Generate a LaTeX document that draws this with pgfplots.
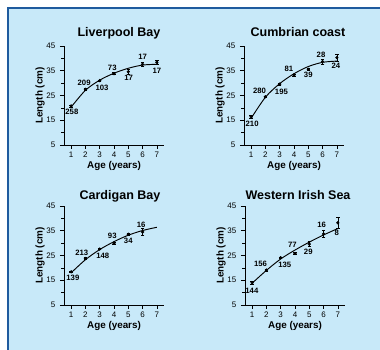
\documentclass[border=0pt]{standalone}
\usepackage{fontspec}
\setmainfont{Liberation Sans}
\usepackage{pgfplots}
\pgfplotsset{compat=1.18}
\usepackage{pgfplotstable}
\definecolor{bgblue}{HTML}{C8E9F9}
\definecolor{frameblue}{HTML}{1F5B9E}

\pgfplotstableread{
age len err
1 20.8 0.4
2 27.5 0.3
3 31.0 0.3
4 33.8 0.4
5 34.6 1.0
6 37.6 0.8
7 38.4 1.0
}\liverpool
\pgfplotstableread{
age len err
1 16.4 0.5
2 24.5 0.3
3 29.6 0.3
4 33.3 0.4
5 35.6 0.5
6 38.7 1.0
7 40.3 1.5
}\cumbrian
\pgfplotstableread{
age len err
1 18.4 0.4
2 23.8 0.3
3 27.6 0.3
4 30.0 0.4
5 33.6 0.4
6 34.5 1.3
}\cardigan
\pgfplotstableread{
age len err
1 14.0 0.5
2 19.1 0.3
3 24.1 0.3
4 25.8 0.4
5 29.6 1.0
6 33.7 1.3
7 38.2 2.2
}\western

\pgfplotsset{panel/.style={
  scale only axis, width=75pt, height=74.25pt,
  xmin=0.5,xmax=7.5,ymin=5,ymax=45,
  axis lines=left, axis line style={-, line width=0.5pt},
  xtick={1,...,7}, ytick={5,15,25,35,45}, minor ytick={10,20,30,40},
  tick align=outside, major tick length=3pt, minor tick length=2pt,
  tick style={line width=0.5pt, black},
  tick label style={font=\fontsize{6}{6}\selectfont},
  xticklabel style={yshift=1pt},
  /pgf/number format/assume math mode=true,
  xlabel={Age (years)}, ylabel={Length (cm)},
  label style={font=\bfseries\fontsize{7.4}{8}\selectfont},
  xlabel style={at={(axis description cs:0.5,-0.215)},anchor=center},
  ylabel style={at={(axis description cs:-0.24,0.5)},anchor=center},
  anchor=south west, clip=false,
},
pts/.style={only marks, mark=*, mark size=1pt, black,
  error bars/.cd, y dir=both, y explicit,
  error bar style={line width=0.5pt},
  error mark options={rotate=90, mark size=1.3pt, line width=0.5pt}},
fit/.style={smooth, no marks, black, line width=0.7pt}
}
\newcommand{\dl}[3]{\node[font=\bfseries\fontsize{5.8}{6}\selectfont,inner sep=0pt] at (axis cs:#1,#2) {#3};}

\begin{document}
\begin{tikzpicture}
\path[use as bounding box] (0,0) rectangle (285pt,262.5pt);
\fill[white] (0,0) rectangle (285pt,262.5pt);
\fill[frameblue] (5.25pt,0) rectangle (285pt,257.25pt);
\fill[bgblue] (6.75pt,0) rectangle (285pt,255.75pt);

% Liverpool Bay
\begin{axis}[panel, at={(48pt,153.75pt)}]
\addplot[fit] coordinates {(1,20.3) (2,27.1) (3,31.2) (4,34.0) (5,36.0) (6,37.3) (7,37.6)};
\addplot[pts] table[x=age,y=len,y error=err] {\liverpool};
\dl{1.05}{18.2}{258}
\dl{1.91}{30.0}{209}
\dl{3.16}{28.2}{103}
\dl{3.88}{36.2}{73}
\dl{5.03}{32.0}{17}
\dl{6.0}{40.7}{17}
\dl{7.0}{35.0}{17}
\end{axis}

% Cumbrian coast
\begin{axis}[panel, at={(183pt,153.75pt)}]
\addplot[fit] coordinates {(1,15.8) (2,24.3) (3,29.8) (4,33.8) (5,36.7) (6,38.4) (7,38.9)};
\addplot[pts] table[x=age,y=len,y error=err] {\cumbrian};
\dl{1.07}{13.5}{210}
\dl{1.59}{26.9}{280}
\dl{3.12}{26.5}{195}
\dl{3.65}{35.7}{81}
\dl{5.0}{33.3}{39}
\dl{5.89}{41.4}{28}
\dl{6.93}{37.0}{24}
\end{axis}

% Cardigan Bay
\begin{axis}[panel, at={(48pt,33.75pt)}]
\addplot[fit] coordinates {(1,18.0) (2,23.3) (3,27.4) (4,30.6) (5,33.2) (6,35.1) (7,36.4)};
\addplot[pts] table[x=age,y=len,y error=err] {\cardigan};
\dl{1.12}{15.8}{139}
\dl{1.74}{26.2}{213}
\dl{3.21}{24.9}{148}
\dl{3.88}{32.9}{93}
\dl{5.0}{31.0}{34}
\dl{5.9}{37.5}{16}
\end{axis}

% Western Irish Sea
\begin{axis}[panel, at={(183.75pt,33.75pt)}]
\addplot[fit] coordinates {(1,13.8) (2,19.0) (3,23.6) (4,27.2) (5,30.4) (6,33.3) (7,35.9)};
\addplot[pts] table[x=age,y=len,y error=err] {\western};
\dl{0.98}{10.8}{144}
\dl{1.59}{21.8}{156}
\dl{3.28}{21.1}{135}
\dl{3.82}{29.5}{77}
\dl{4.93}{26.5}{29}
\dl{5.87}{37.5}{16}
\dl{6.93}{34.0}{8}
\end{axis}

\node[font=\bfseries\fontsize{9.4}{10}\selectfont, anchor=base] at (89.25pt,234.75pt) {Liverpool Bay};
\node[font=\bfseries\fontsize{9.4}{10}\selectfont, anchor=base] at (223.5pt,234.75pt) {Cumbrian coast};
\node[font=\bfseries\fontsize{9.4}{10}\selectfont, anchor=base] at (90pt,112.5pt) {Cardigan Bay};
\node[font=\bfseries\fontsize{9.4}{10}\selectfont, anchor=base] at (223.5pt,112.5pt) {Western Irish Sea};
\end{tikzpicture}
\end{document}
